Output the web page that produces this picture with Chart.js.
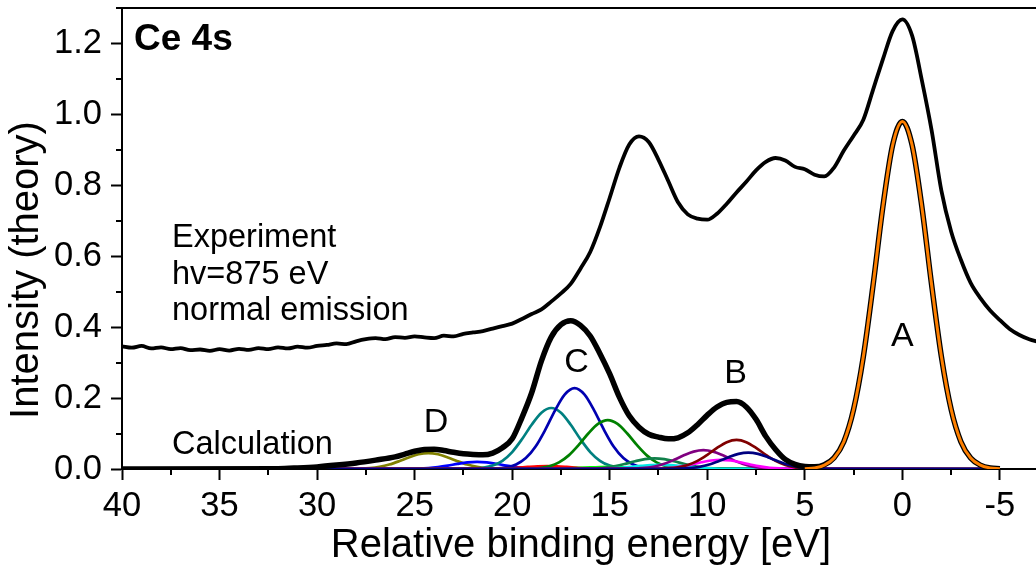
<!DOCTYPE html>
<html><head><meta charset="utf-8">
<script src="https://cdn.jsdelivr.net/npm/chart.js@4"></script>
<style>html,body{margin:0;padding:0;background:#fff;overflow:hidden}#wrap{width:1036px;height:567px}</style>
</head><body><div id="wrap"><canvas id="c" width="1036" height="567"></canvas></div>
<script>
// ---------- data ----------
const xMajorTicks = [40,35,30,25,20,15,10,5,0,-5];
const xMinorTicks = [37.5,32.5,27.5,22.5,17.5,12.5,7.5,2.5,-2.5];
const yMajorTicks = [0,0.2,0.4,0.6,0.8,1.0,1.2];
const yMinorTicks = [0.1,0.3,0.5,0.7,0.9,1.1,1.3];

const expEnergy = [40,39.5,39,38.5,38,37.5,37,36.5,36,35.5,
  35,34.5,34,33.5,33,32.5,32,31.5,31,30.5,
  30,29.5,29,28.5,28,27.5,27,26.5,26,25.5,
  25,24.5,24,23.5,23,22.5,22,21.5,21,20.5,
  20,19.5,19,18.5,18,17.5,17,16.5,16,15.5,
  15,14.5,14,13.5,13,12.5,12,11.5,11,10.5,
  10,9.5,9,8.5,8,7.5,7,6.5,6,5.5,
  5,4.5,4,3.5,3,2.5,2,1.5,1,0.5,
  0,-0.5,-1,-1.5,-2,-2.5,-3,-3.5,-4,-4.5,
  -5,-5.5,-6,-6.5,-7];
const expIntensity = [0.346,0.342,0.347,0.340,0.343,0.338,0.341,0.335,0.337,0.333,
  0.338,0.334,0.339,0.336,0.341,0.338,0.343,0.340,0.345,0.342,
  0.347,0.350,0.354,0.352,0.360,0.366,0.369,0.366,0.372,0.370,
  0.374,0.371,0.369,0.376,0.374,0.381,0.385,0.389,0.396,0.403,
  0.410,0.423,0.437,0.450,0.472,0.495,0.522,0.565,0.612,0.682,
  0.765,0.850,0.915,0.938,0.922,0.872,0.812,0.752,0.718,0.706,
  0.703,0.720,0.748,0.780,0.810,0.842,0.866,0.877,0.870,0.852,
  0.845,0.830,0.825,0.850,0.898,0.940,0.985,1.070,1.155,1.235,
  1.268,1.222,1.096,0.955,0.785,0.670,0.590,0.525,0.482,0.447,
  0.420,0.395,0.378,0.366,0.358];

const calcEnergy = [40,32,31,30,29,28,27,26,
  25.5,25,24.5,24,23.5,23,22.5,22,21.5,21,
  20.5,20,19.5,19,18.5,18,17.5,17,16.5,16,
  15.5,15,14.5,14,13.5,13,12.5,12,11.5,11,
  10.5,10,9.5,9,8.5,8,7.5,7,6.5,6,
  5.5,5,4.5,4,
  3.5,3,2.5,2,1.5,1,0.5,0,-0.5,-1,-1.5,-2,-2.5,-3,-3.5,-4,-4.5,-5];
const calcTotal = [0,0.001,0.003,0.006,0.011,0.017,0.025,0.034,
  0.042,0.050,0.055,0.056,0.052,0.047,0.043,0.041,0.040,0.045,
  0.060,0.085,0.145,0.215,0.305,0.372,0.407,0.418,0.405,0.375,
  0.325,0.268,0.202,0.150,0.118,0.098,0.090,0.085,0.088,0.102,
  0.125,0.152,0.175,0.188,0.190,0.175,0.140,0.092,0.055,0.027,
  0.013,0.007,0.006,0.012,
  0.032,0.077,0.168,0.317,0.519,0.739,0.913,0.980,0.913,0.739,0.519,0.317,0.168,0.077,0.031,0.011,0.003,0.001];

const peakAEnergy = [5,4.5,4,3.5,3,2.5,2,1.5,1,0.5,0,-0.5,-1,-1.5,-2,-2.5,-3,-3.5,-4,-4.5,-5];
const peakAIntensity = [0.001,0.003,0.011,0.031,0.077,0.168,0.317,0.519,0.739,0.913,0.98,0.913,0.739,0.519,0.317,0.168,0.077,0.031,0.011,0.003,0.001];

const oliveE = [40,28.3,27.8,27.3,26.8,26.3,25.8,25.3,24.8,24.3,23.8,23.3,22.8,22.3,21.8,21.3,20.8,20.3,-5];
const oliveI = [0,0.0003,0.0009,0.0025,0.0061,0.0125,0.0219,0.0327,0.0415,0.045,0.0415,0.0327,0.0219,0.0125,0.0061,0.0025,0.0009,0.0003,0];
const blueSmallE = [40,25.8,25.3,24.8,24.3,23.8,23.3,22.8,22.3,21.8,21.3,20.8,20.3,19.8,19.3,18.8,18.3,17.8,-5];
const blueSmallI = [0,0.0001,0.0004,0.0011,0.0027,0.0056,0.0097,0.0145,0.0185,0.02,0.0185,0.0145,0.0097,0.0056,0.0027,0.0011,0.0004,0.0001,0];
const tealE = [40,22,21.5,21,20.5,20,19.5,19,18.5,18,17.5,17,16.5,16,15.5,15,14.5,14,-5];
const tealI = [0,0.001,0.0034,0.0096,0.0232,0.0478,0.0838,0.1249,0.1588,0.172,0.1588,0.1249,0.0838,0.0478,0.0232,0.0096,0.0034,0.001,0];
const redE = [40,22.2,21.7,21.2,20.7,20.2,19.7,19.2,18.7,18.2,17.7,17.2,16.7,16.2,15.7,15.2,14.7,14.2,-5];
const redI = [0,0.0001,0.0002,0.0004,0.0011,0.0022,0.0039,0.0058,0.0074,0.008,0.0074,0.0058,0.0039,0.0022,0.0011,0.0004,0.0002,0.0001,0];
const blueCE = [40,20.8,20.3,19.8,19.3,18.8,18.3,17.8,17.3,16.8,16.3,15.8,15.3,14.8,14.3,13.8,13.3,12.8,-5];
const blueCI = [0,0.0014,0.0046,0.0128,0.0308,0.0634,0.111,0.1655,0.2104,0.228,0.2104,0.1655,0.111,0.0634,0.0308,0.0128,0.0046,0.0014,0];
const greenE = [40,19.1,18.6,18.1,17.6,17.1,16.6,16.1,15.6,15.1,14.6,14.1,13.6,13.1,12.6,12.1,11.6,11.1,-5];
const greenI = [0,0.0008,0.0028,0.0077,0.0186,0.0384,0.0672,0.1002,0.1274,0.138,0.1274,0.1002,0.0672,0.0384,0.0186,0.0077,0.0028,0.0008,0];
const limeE = [40,19,18.5,18,17.5,17,16.5,16,15.5,15,14.5,14,13.5,13,12.5,12,11.5,11,-5];
const limeI = [0,0,0.0001,0.0003,0.0008,0.0017,0.0029,0.0044,0.0055,0.006,0.0055,0.0044,0.0029,0.0017,0.0008,0.0003,0.0001,0,0];
const darkGreenE = [40,16.7,16.2,15.7,15.2,14.7,14.2,13.7,13.2,12.7,12.2,11.7,11.2,10.7,10.2,9.7,9.2,8.7,-5];
const darkGreenI = [0,0.0002,0.0006,0.0017,0.0041,0.0083,0.0146,0.0218,0.0277,0.03,0.0277,0.0218,0.0146,0.0083,0.0041,0.0017,0.0006,0.0002,0];
const cyanE = [40,16.4,15.9,15.4,14.9,14.4,13.9,13.4,12.9,12.4,11.9,11.4,10.9,10.4,9.9,9.4,8.9,8.4,-5];
const cyanI = [0,0.0001,0.0002,0.0007,0.0016,0.0033,0.0058,0.0087,0.0111,0.012,0.0111,0.0087,0.0058,0.0033,0.0016,0.0007,0.0002,0.0001,0];
const purpleE = [40,14.2,13.7,13.2,12.7,12.2,11.7,11.2,10.7,10.2,9.7,9.2,8.7,8.2,7.7,7.2,6.7,6.2,-5];
const purpleI = [0,0.0003,0.0011,0.003,0.0072,0.0147,0.0258,0.0385,0.0489,0.053,0.0489,0.0385,0.0258,0.0147,0.0072,0.003,0.0011,0.0003,0];
const magentaE = [40,13.3,12.8,12.3,11.8,11.3,10.8,10.3,9.8,9.3,8.8,8.3,7.8,7.3,6.8,6.3,5.8,5.3,-5];
const magentaI = [0,0.0002,0.0005,0.0015,0.0035,0.0072,0.0127,0.0189,0.024,0.026,0.024,0.0189,0.0127,0.0072,0.0035,0.0015,0.0005,0.0002,0];
const wineE = [40,12.5,12,11.5,11,10.5,10,9.5,9,8.5,8,7.5,7,6.5,6,5.5,5,4.5,-5];
const wineI = [0,0.0005,0.0016,0.0046,0.0111,0.0228,0.0399,0.0595,0.0757,0.082,0.0757,0.0595,0.0399,0.0228,0.0111,0.0046,0.0016,0.0005,0];
const navyE = [40,11.9,11.4,10.9,10.4,9.9,9.4,8.9,8.4,7.9,7.4,6.9,6.4,5.9,5.4,4.9,4.4,3.9,-5];
const navyI = [0,0.0003,0.0009,0.0026,0.0062,0.0128,0.0224,0.0334,0.0425,0.046,0.0425,0.0334,0.0224,0.0128,0.0062,0.0026,0.0009,0.0003,0];

// ---------- styling / build ----------
const FONT = '"Liberation Sans", Arial, Helvetica, sans-serif';
const pts = (xs, ys) => xs.map((x, i) => ({x: x, y: ys[i]}));
const comp = (xs, ys, color) => ({data: pts(xs, ys), borderColor: color, borderWidth: 2.7, cubicInterpolationMode: 'monotone'});

const datasets = [
  {data: pts(peakAEnergy, peakAIntensity), borderColor: '#ff8000', borderWidth: 3, cubicInterpolationMode: 'monotone'},
  {data: pts(calcEnergy, calcTotal), borderColor: '#000', borderWidth: 5.5, cubicInterpolationMode: 'monotone'},
  comp(navyE, navyI, '#000080'),
  comp(wineE, wineI, '#800000'),
  comp(magentaE, magentaI, '#ff00ff'),
  comp(purpleE, purpleI, '#800080'),
  comp(cyanE, cyanI, '#00e8e8'),
  comp(darkGreenE, darkGreenI, '#10804a'),
  comp(limeE, limeI, '#00ff00'),
  comp(greenE, greenI, '#008000'),
  comp(blueCE, blueCI, '#0000b0'),
  comp(redE, redI, '#ff0000'),
  comp(tealE, tealI, '#008080'),
  comp(blueSmallE, blueSmallI, '#0000ff'),
  comp(oliveE, oliveI, '#808000'),
  {data: pts(expEnergy, expIntensity), borderColor: '#000', borderWidth: 3.8, cubicInterpolationMode: 'monotone'}
];

const labelPeaks = [
  {t: 'A', e: 0, v: 0.347},
  {t: 'B', e: 8.55, v: 0.243},
  {t: 'C', e: 16.7, v: 0.274},
  {t: 'D', e: 23.9, v: 0.104}
];

const decor = {
  id: 'decor',
  afterDraw(chart) {
    const {ctx, chartArea: ca, scales: {x, y}} = chart;
    ctx.save();
    ctx.strokeStyle = '#000';
    ctx.lineWidth = 2;
    // top frame line
    ctx.beginPath(); ctx.moveTo(ca.left - 1, ca.top); ctx.lineTo(ca.right, ca.top); ctx.stroke();
    // minor ticks
    xMinorTicks.forEach(v => { const p = Math.round(x.getPixelForValue(v)); ctx.beginPath(); ctx.moveTo(p, ca.bottom); ctx.lineTo(p, ca.bottom + 6); ctx.stroke(); });
    yMinorTicks.forEach(v => { const p = Math.round(y.getPixelForValue(v)); ctx.beginPath(); ctx.moveTo(ca.left, p); ctx.lineTo(ca.left - 6, p); ctx.stroke(); });
    ctx.fillStyle = '#000';
    ctx.textBaseline = 'alphabetic';
    // axis titles
    ctx.font = '40px ' + FONT;
    ctx.textAlign = 'center';
    ctx.fillText('Relative binding energy [eV]', (ca.left + ca.right) / 2 + 2, 557);
    ctx.save(); ctx.translate(38, 270); ctx.rotate(-Math.PI / 2); ctx.fillText('Intensity (theory)', 0, 0); ctx.restore();
    // annotations
    ctx.textAlign = 'left';
    ctx.font = 'bold 37px ' + FONT;
    ctx.fillText('Ce 4s', 134, 50);
    ctx.font = '32.5px ' + FONT;
    ctx.fillText('Experiment', 172, 247);
    ctx.fillText('hv=875 eV', 172, 283.5);
    ctx.fillText('normal emission', 172, 320);
    ctx.fillText('Calculation', 172, 454);
    ctx.font = '34px ' + FONT;
    ctx.textAlign = 'center';
    labelPeaks.forEach(l => ctx.fillText(l.t, x.getPixelForValue(l.e), y.getPixelForValue(l.v)));
    ctx.restore();
  }
};

new Chart(document.getElementById('c'), {
  type: 'line',
  data: {datasets: datasets},
  options: {
    responsive: false,
    devicePixelRatio: 1,
    animation: false,
    layout: {padding: {top: 8, right: 0, left: 0, bottom: 0}},
    elements: {point: {radius: 0}, line: {fill: false}},
    plugins: {legend: {display: false}, tooltip: {enabled: false}},
    scales: {
      x: {
        type: 'linear', reverse: true, min: -6.85, max: 40,
        afterBuildTicks: s => { s.ticks = xMajorTicks.map(v => ({value: v})); },
        afterFit: s => { s.height = 98; s.paddingLeft = 0; s.paddingRight = 0; },
        ticks: {color: '#000', font: {family: FONT, size: 34.5}, padding: 6, maxRotation: 0, autoSkip: false, callback: v => String(v)},
        grid: {drawOnChartArea: false, tickLength: 11, tickWidth: 2, color: '#000'},
        border: {color: '#000', width: 2}
      },
      y: {
        type: 'linear', min: 0, max: 1.3,
        afterBuildTicks: s => { s.ticks = yMajorTicks.map(v => ({value: v})); },
        afterFit: s => { s.width = 122; s.paddingTop = 0; s.paddingBottom = 0; },
        ticks: {color: '#000', font: {family: FONT, size: 34.5}, padding: 9, autoSkip: false, callback: v => Number(v).toFixed(1)},
        grid: {drawOnChartArea: false, tickLength: 11, tickWidth: 2, color: '#000'},
        border: {color: '#000', width: 2}
      }
    }
  },
  plugins: [decor]
});
</script></body></html>
